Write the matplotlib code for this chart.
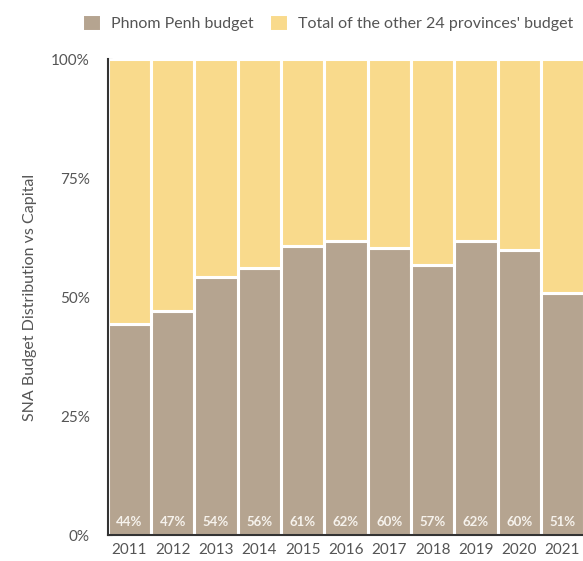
import matplotlib
matplotlib.use("Agg")
import matplotlib.pyplot as plt
import numpy as np

years = ["2011", "2012", "2013", "2014", "2015", "2016", "2017", "2018", "2019", "2020", "2021"]
phnom_penh = [44.4, 47.1, 54.2, 56.1, 60.7, 61.8, 60.4, 56.7, 61.8, 59.9, 50.8]
others = [100 - v for v in phnom_penh]

brown = "#b5a490"
yellow = "#f9da8c"
txt = "#555555"

plt.rcParams['font.family'] = ['Lato', 'DejaVu Sans']

fig = plt.figure(figsize=(5.83, 5.61), dpi=100)
ax = fig.add_axes([0.185, 0.0463, 0.817, 0.8485])

x = np.arange(len(years))
ax.set_axisbelow(True)
ax.yaxis.grid(True, color="#bbbbbb", linewidth=1.2)
ax.bar(x, phnom_penh, width=1.0, color=brown, edgecolor="white", linewidth=2.2,
       label="Phnom Penh budget")
ax.bar(x, others, bottom=phnom_penh, width=1.0, color=yellow, edgecolor="white",
       linewidth=2.2, label="Total of the other 24 provinces' budget")

for xi, v in zip(x, phnom_penh):
    ax.text(xi, 2.8, f"{round(v):d}%", ha="center", va="center", color="#f6f2ec",
            fontsize=9.5, fontweight="bold")

ax.set_xlim(-0.5, 10.5)
ax.set_ylim(0, 100)
ax.set_yticks([0, 25, 50, 75, 100])
ax.set_yticklabels(["0%", "25%", "50%", "75%", "100%"])
ax.set_xticks(x)
ax.set_xticklabels(years)
ax.tick_params(axis="y", direction="in", length=3, color="#888888", labelsize=11,
               labelcolor=txt, pad=13)
ax.tick_params(axis="x", length=0, labelsize=11, labelcolor=txt, pad=6)
for s in ["top", "right"]:
    ax.spines[s].set_visible(False)
for s in ["left", "bottom"]:
    ax.spines[s].set_color("#333333")
    ax.spines[s].set_linewidth(1.5)

ax.set_ylabel("SNA Budget Distribution vs Capital", color=txt, fontsize=11.5, labelpad=10)

fig.legend(loc="upper center", bbox_to_anchor=(0.562, 1.0), ncol=2, frameon=False,
           fontsize=11.5, labelcolor=txt, handlelength=1.2, handleheight=1.2,
           handletextpad=0.6, columnspacing=1.0)

fig.savefig("out.png", dpi=100)
